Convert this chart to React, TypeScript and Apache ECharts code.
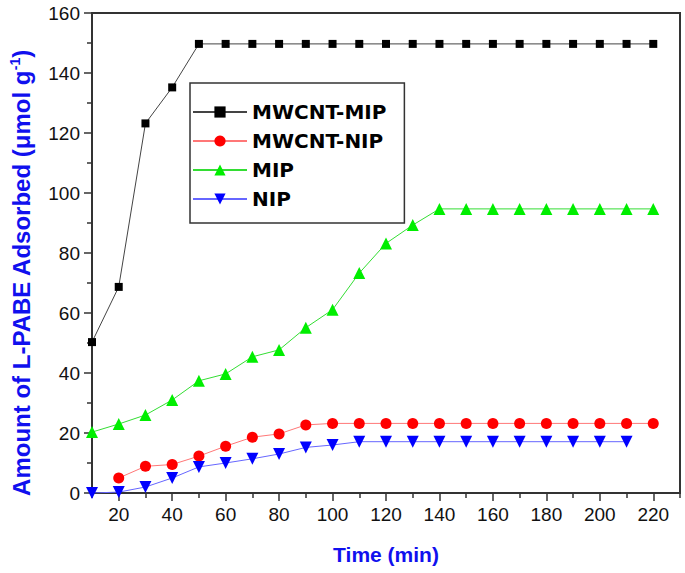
import React, { useEffect, useRef } from "react";
import * as echarts from "echarts";

const times = [10, 20, 30, 40, 50, 60, 70, 80, 90, 100, 110, 120, 130, 140, 150, 160, 170, 180, 190, 200, 210, 220];
const mwcntMip = [50.3, 68.7, 123.2, 135.2, 149.7, 149.7, 149.7, 149.7, 149.7, 149.7, 149.7, 149.7, 149.7, 149.7, 149.7, 149.7, 149.7, 149.7, 149.7, 149.7, 149.7, 149.7];
const mwcntNip = [null, 5, 8.9, 9.5, 12.3, 15.6, 18.6, 19.7, 22.7, 23.2, 23.2, 23.2, 23.2, 23.2, 23.2, 23.2, 23.2, 23.2, 23.2, 23.2, 23.2, 23.2];
const mip = [20.3, 23, 26, 31, 37.4, 39.7, 45.4, 47.7, 55.1, 61.1, 73.3, 83.2, 89.3, 94.7, 94.7, 94.7, 94.7, 94.7, 94.7, 94.7, 94.7, 94.7];
const nip = [0, 0.3, 2, 5, 8.7, 10, 11.4, 13, 15.2, 16, 17.1, 17.1, 17.1, 17.1, 17.1, 17.1, 17.1, 17.1, 17.1, 17.1, 17.1, null];
const xMajorTicks = [20, 40, 60, 80, 100, 120, 140, 160, 180, 200, 220];
const xMinorTicks = [10, 30, 50, 70, 90, 110, 130, 150, 170, 190, 210, 230];

const pair = (vals: (number | null)[]) =>
  times.map((t, i) => [t, vals[i]]).filter((p) => p[1] !== null);

export default function App() {
  const ref = useRef<HTMLDivElement>(null);
  useEffect(() => {
    document.body.style.margin = "0";
    const chart = echarts.init(ref.current!, null, { renderer: "svg" });
    const tickFont = "'Liberation Sans Narrow', 'Liberation Sans', Arial, sans-serif";
    const boldFont = "'Liberation Sans', Arial, sans-serif";
    const legendFont = "'DejaVu Sans', 'Liberation Sans', Arial, sans-serif";
    chart.setOption({
      animation: false,
      backgroundColor: "#fff",
      grid: {
        left: 88,
        right: 5,
        top: 13,
        bottom: 80,
        show: true,
        borderColor: "#333",
        borderWidth: 2,
      },
      legend: {
        orient: "vertical",
        left: 190,
        top: 83,
        padding: [19, 18, 14, 2],
        itemWidth: 54,
        itemHeight: 14,
        itemGap: 9,
        borderColor: "#333",
        borderWidth: 1.5,
        backgroundColor: "#fff",
        textStyle: { fontFamily: legendFont, fontWeight: "bold", fontSize: 20, color: "#000" },
        data: ["MWCNT-MIP", "MWCNT-NIP", "MIP", "NIP"],
      },
      xAxis: [
        {
          type: "value",
          min: 10,
          max: 230,
          interval: 10,
          name: "Time (min)",
          nameLocation: "middle",
          nameGap: 51,
          nameTextStyle: { fontFamily: boldFont, fontWeight: "bold", fontSize: 21, color: "#1010ee" },
          axisLine: { show: true, lineStyle: { color: "#333", width: 2 } },
          axisTick: { show: true, length: 8, customValues: xMajorTicks, lineStyle: { color: "#333", width: 1.5 } },
          axisLabel: { customValues: xMajorTicks, margin: 12, fontFamily: tickFont, fontSize: 19, color: "#111" },
          splitLine: { show: false },
        },
        {
          type: "value",
          min: 10,
          max: 230,
          interval: 10,
          position: "bottom",
          axisLine: { show: false },
          axisTick: { show: true, length: 5, customValues: xMinorTicks, lineStyle: { color: "#333", width: 1.5 } },
          axisLabel: { show: false },
          splitLine: { show: false },
        },
      ],
      yAxis: {
        type: "value",
        min: 0,
        max: 160,
        interval: 20,
        name: "{a|Amount of L-PABE Adsorbed (μmol g}{b|-1}{a|)}",
        nameLocation: "middle",
        nameGap: 58,
        nameTextStyle: {
          padding: [0, 40, 0, 0],
          rich: {
            a: { fontFamily: boldFont, fontWeight: "bold", fontSize: 24, color: "#1010ee" },
            b: { fontFamily: boldFont, fontWeight: "bold", fontSize: 14, color: "#1010ee", verticalAlign: "top", padding: [0, 0, 12, 0] },
          },
        },
        axisLine: { show: true, lineStyle: { color: "#333", width: 2 } },
        axisTick: { show: true, length: 8, lineStyle: { color: "#333", width: 1.5 } },
        minorTick: { show: true, splitNumber: 2, length: 5, lineStyle: { color: "#333", width: 1.5 } },
        axisLabel: { margin: 12, fontFamily: tickFont, fontSize: 19, color: "#111" },
        splitLine: { show: false },
      },
      series: [
        {
          name: "MWCNT-MIP",
          type: "line",
          data: pair(mwcntMip),
          symbol: "rect",
          symbolSize: 8,
          itemStyle: { color: "#000" },
          lineStyle: { color: "#444", width: 1 },
        },
        {
          name: "MWCNT-NIP",
          type: "line",
          data: pair(mwcntNip),
          symbol: "circle",
          symbolSize: 11,
          itemStyle: { color: "#ff0000" },
          lineStyle: { color: "#ff7777", width: 1 },
        },
        {
          name: "MIP",
          type: "line",
          data: pair(mip),
          symbol: "triangle",
          symbolSize: 12,
          itemStyle: { color: "#00ee00" },
          lineStyle: { color: "#33dd33", width: 1 },
        },
        {
          name: "NIP",
          type: "line",
          data: pair(nip),
          symbol: "triangle",
          symbolRotate: 180,
          symbolSize: 12,
          itemStyle: { color: "#0000ff" },
          lineStyle: { color: "#6666ff", width: 1 },
        },
      ],
    });
    return () => chart.dispose();
  }, []);
  return <div ref={ref} style={{ width: 685, height: 573 }} />;
}
